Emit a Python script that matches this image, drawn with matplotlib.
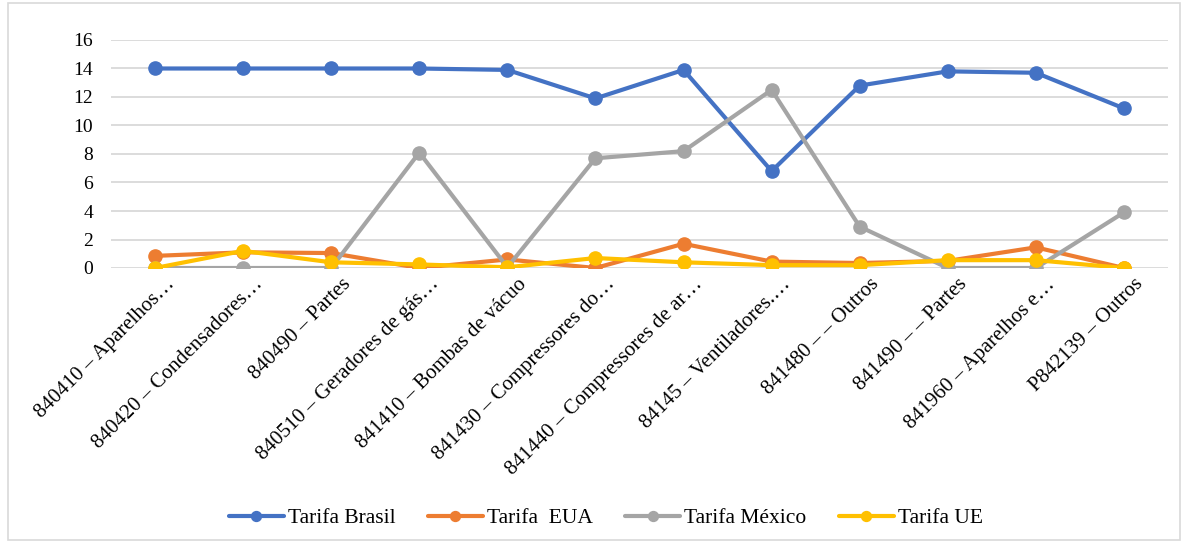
import matplotlib
matplotlib.use("Agg")
import matplotlib.pyplot as plt
import matplotlib.transforms as mtransforms
from matplotlib.patches import Rectangle

plt.rcParams['font.family'] = ['Liberation Serif', 'DejaVu Serif']

categorias = ["840410 – Aparelhos…", "840420 – Condensadores…", "840490 – Partes",
              "840510 – Geradores de gás…", "841410 – Bombas de vácuo",
              "841430 – Compressores do…", "841440 – Compressores de ar…",
              "84145 – Ventiladores.…", "841480 – – Outros", "841490 – – Partes",
              "841960 – Aparelhos e…", "P842139 – Outros"]

tarifa_brasil = [14.0, 14.0, 14.0, 14.0, 13.9, 11.9, 13.9, 6.8, 12.8, 13.8, 13.7, 11.2]
tarifa_eua = [0.85, 1.1, 1.05, 0.0, 0.6, 0.0, 1.7, 0.45, 0.35, 0.5, 1.45, 0.0]
tarifa_mexico = [0.0, 0.0, 0.0, 8.1, 0.05, 7.7, 8.2, 12.5, 2.9, 0.0, 0.0, 3.9]
tarifa_ue = [0.0, 1.2, 0.4, 0.25, 0.05, 0.7, 0.4, 0.2, 0.2, 0.55, 0.55, 0.0]

series = [("Tarifa Brasil", tarifa_brasil, "#4472C4"),
          ("Tarifa  EUA", tarifa_eua, "#ED7D31"),
          ("Tarifa México", tarifa_mexico, "#A5A5A5"),
          ("Tarifa UE", tarifa_ue, "#FFC000")]

fig = plt.figure(figsize=(11.85, 5.42), dpi=100)
ax = fig.add_axes([111/1185, 1-268/542, (1168-111)/1185, (268-40)/542])

x = list(range(len(categorias)))
for nome, vals, cor in series:
    ax.plot(x, vals, color=cor, lw=3, marker='o', markersize=9.5, label=nome,
            solid_capstyle='round', zorder=3)

ax.set_xlim(-0.5, len(categorias) - 0.5)
ax.set_ylim(0, 16)
ax.set_yticks(range(0, 17, 2))
ax.grid(axis='y', color='#D9D9D9', lw=1.3, zorder=0)
for s in ax.spines.values():
    s.set_visible(False)
ax.tick_params(axis='both', length=0, labelsize=14)
ax.tick_params(axis='y', pad=13)
ax.set_xticks(x)
ax.set_xticklabels(categorias, rotation=45, ha='right', va='top',
                   rotation_mode='anchor', fontsize=15)
ax.tick_params(axis='x', pad=5)
# shift the rotated labels a bit to the right, like the original
desloc = mtransforms.ScaledTranslation(10/100, 0, fig.dpi_scale_trans)
for lbl in ax.get_xticklabels():
    lbl.set_transform(lbl.get_transform() + desloc)

fig.legend(loc='center', bbox_to_anchor=(606/1185, 1-518/542), ncol=4, frameon=False,
           fontsize=15.5, handlelength=2.55, columnspacing=1.5, handletextpad=0.2,
           markerscale=0.75)

fig.patches.append(Rectangle((8/1185, 2/542), 1172/1185, 537/542, transform=fig.transFigure,
                             fill=False, edgecolor='#D9D9D9', lw=1.2))

fig.savefig("out.png", dpi=100)
